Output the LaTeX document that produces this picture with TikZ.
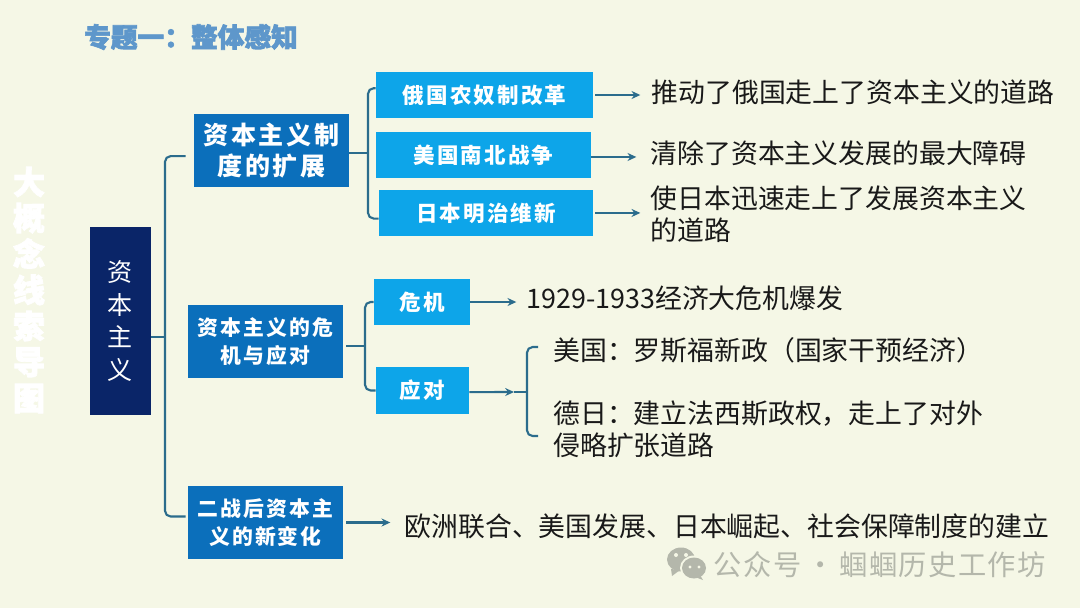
\documentclass[tikz,border=0pt]{standalone}
\usepackage{xcolor}
\usepackage{fontspec}
\setmainfont{Noto Sans CJK SC}
\newfontfamily\boxfont[LetterSpace=10]{Noto Sans CJK SC}
\newfontfamily\heavyfont[BoldFeatures={FakeBold=2.5}]{Noto Sans CJK SC}
\newfontfamily\markfont[LetterSpace=5]{Noto Sans CJK SC}
\usetikzlibrary{arrows.meta, positioning}
\definecolor{pagebg}{HTML}{F5F7E6}
\definecolor{rootblue}{HTML}{0A2568}
\definecolor{topicblue}{HTML}{0B6FBB}
\definecolor{eventblue}{HTML}{0DA5E9}
\definecolor{linkteal}{HTML}{2B6C8C}
\definecolor{titleblue}{HTML}{5E97CB}
\definecolor{markgray}{HTML}{B4B7AB}

\begin{document}
\begin{tikzpicture}[
  x=0.025cm, y=-0.025cm,
  box/.style={rectangle, inner sep=0pt, align=center, text=white},
  rootbox/.style={box, fill=rootblue, minimum width=1.525cm, minimum height=4.7cm,
                  font=\fontsize{17.8}{23.26}\selectfont},
  topicbox/.style={box, fill=topicblue, minimum width=3.875cm, minimum height=1.825cm,
                   font=\boxfont\bfseries\fontsize{14.8}{19.6}\selectfont},
  bigtopic/.style={topicbox, font=\boxfont\bfseries\fontsize{17.8}{22.4}\selectfont},
  eventbox/.style={box, fill=eventblue, minimum height=1.16cm,
                   font=\boxfont\bfseries\fontsize{15.3}{19}\selectfont},
  answer/.style={inner sep=0pt, align=left, text=black!90, font=\fontsize{19.1}{22.6}\selectfont},
  link/.style={draw=linkteal, line width=1.5pt, rounded corners=4pt},
  arrow/.style={-{Stealth[length=2.2mm, width=2mm]}, draw=linkteal, line width=1.5pt}
]
\fill[pagebg] (0,0) rectangle (1080,608);
\useasboundingbox (0,0) rectangle (1080,608);

\node[text=titleblue, inner sep=0pt, font=\heavyfont\bfseries\fontsize{19}{22}\selectfont] (title) at (191,37) {专题一：整体感知};
\node[text=white, inner sep=0pt, align=center, font=\heavyfont\bfseries\fontsize{22.8}{25.6}\selectfont] (side) at (29,290) {大\\概\\念\\线\\索\\导\\图};

\node[rootbox] (root) at (120.5,321) {资\\本\\主\\义};
\node[bigtopic] (expand) at (271.5,150.5) {资本主义制\\度的扩展};
\node[topicbox] (crisis) at (265.5,341.5) {资本主义的危\\机与应对};
\node[topicbox] (postwar) at (265.5,522.5) {二战后资本主\\义的新变化};

\node[eventbox, minimum width=5.425cm] (russia) at (484.5,95) {俄国农奴制改革};
\node[eventbox, minimum width=5.375cm, below=0.325cm of russia, xshift=-0.025cm] (america) {美国南北战争};
\node[eventbox, minimum width=5.35cm, below=0.275cm of america, xshift=0.0625cm] (japan) {日本明治维新};
\node[eventbox, minimum width=2.4cm] (slump) at (422,302) {危机};
\node[eventbox, minimum width=2.325cm] (response) at (422.5,390.5) {应对};

\node[answer, right=1.45cm of russia, yshift=0.07cm] (russiatext) {推动了俄国走上了资本主义的道路};
\node[answer, right=1.475cm of america, yshift=0.05cm] (americatext) {清除了资本主义发展的最大障碍};
\node[answer, right=1.425cm of japan, yshift=-0.03cm] (japantext) {使日本迅速走上了发展资本主义\\的道路};
\node[answer, right=1.4cm of slump, yshift=0.1cm] (slumptext) {1929-1933经济大危机爆发};
\node[answer, anchor=west] (usatext) at (553,350) {美国：罗斯福新政（国家干预经济）};
\node[answer, anchor=west] (gertext) at (553,429) {德日：建立法西斯政权，走上了对外\\侵略扩张道路};
\node[answer, right=1.525cm of postwar, yshift=-0.09cm] (postwartext) {欧洲联合、美国发展、日本崛起、社会保障制度的建立};

% brackets
\coordinate (rootbus) at (165,337);
\coordinate (expandbus) at (368,153);
\coordinate (crisisbus) at (365,346);
\coordinate (fixtip) at (514,392);
\coordinate (fixbus) at (527,392);
\coordinate (fixtop) at (538,347);
\coordinate (fixend) at (538,436);

\draw[link] (root.east |- rootbus) -- (rootbus);
\draw[link, shorten >=0.2cm] (rootbus) -- ([yshift=-0.14cm]rootbus |- expand.west) -- ([yshift=-0.14cm]expand.west);
\draw[link, shorten >=0.05cm] (rootbus) -- ([yshift=0.15cm]rootbus |- postwar.west) -- ([yshift=0.15cm]postwar.west);

\draw[link] (expand.east |- expandbus) -- (expandbus);
\draw[link] ([yshift=0.17cm]russia.west) -- ([yshift=0.17cm]russia.west -| expandbus) -- ([yshift=-0.14cm]japan.west -| expandbus) -- ([yshift=-0.14cm]japan.west);
\draw[link, shorten <=0.075cm] (crisis.east |- crisisbus) -- (crisisbus);
\draw[link] (slump.west) -- (slump.west -| crisisbus) -- (response.west -| crisisbus) -- (response.west);

\draw[arrow, shorten <=0.05cm, shorten >=0.275cm] (russia.east) -- (russia.east -| russiatext.west);
\draw[arrow, shorten >=0.35cm] ([yshift=-0.05cm]america.east) -- ([yshift=-0.05cm]america.east -| americatext.west);
\draw[arrow, shorten <=0.05cm, shorten >=0.25cm] (japan.east) -- (japan.east -| japantext.west);
\draw[arrow, shorten >=0.25cm] (slump.east) -- (slump.east -| slumptext.west);
\draw[arrow] ([yshift=-0.04cm]response.east) -- (fixtip);
\draw[link] (fixtip) -- (fixbus);
\draw[link] (fixtop) -- (fixtop -| fixbus) -- (fixend -| fixbus) -- (fixend);
\draw[arrow, shorten <=0.075cm, shorten >=0.35cm] (postwar.east) -- (postwar.east -| postwartext.west);

% watermark
\fill[markgray] (681,559.5) ellipse [x radius=14, y radius=12];
\fill[markgray] (671,569) -- (672,576) -- (680,570) -- cycle;
\fill[pagebg] (694,568) ellipse [x radius=14, y radius=12.5];
\fill[markgray] (694,568) ellipse [x radius=12, y radius=10.5];
\fill[markgray] (700,575) -- (703,580) -- (695,577) -- cycle;
\fill[pagebg] (676,555) circle [radius=2];
\fill[pagebg] (686,555) circle [radius=2];
\fill[pagebg] (690,567) circle [radius=1.6];
\fill[pagebg] (699,567) circle [radius=1.6];
\node[text=markgray, anchor=west, inner sep=0pt, font=\markfont\fontsize{20.1}{24}\selectfont] (mark) at (713.5,565) {公众号\hspace{3.5pt}·\hspace{3.5pt}蝈蝈历史工作坊};
\end{tikzpicture}
\end{document}
